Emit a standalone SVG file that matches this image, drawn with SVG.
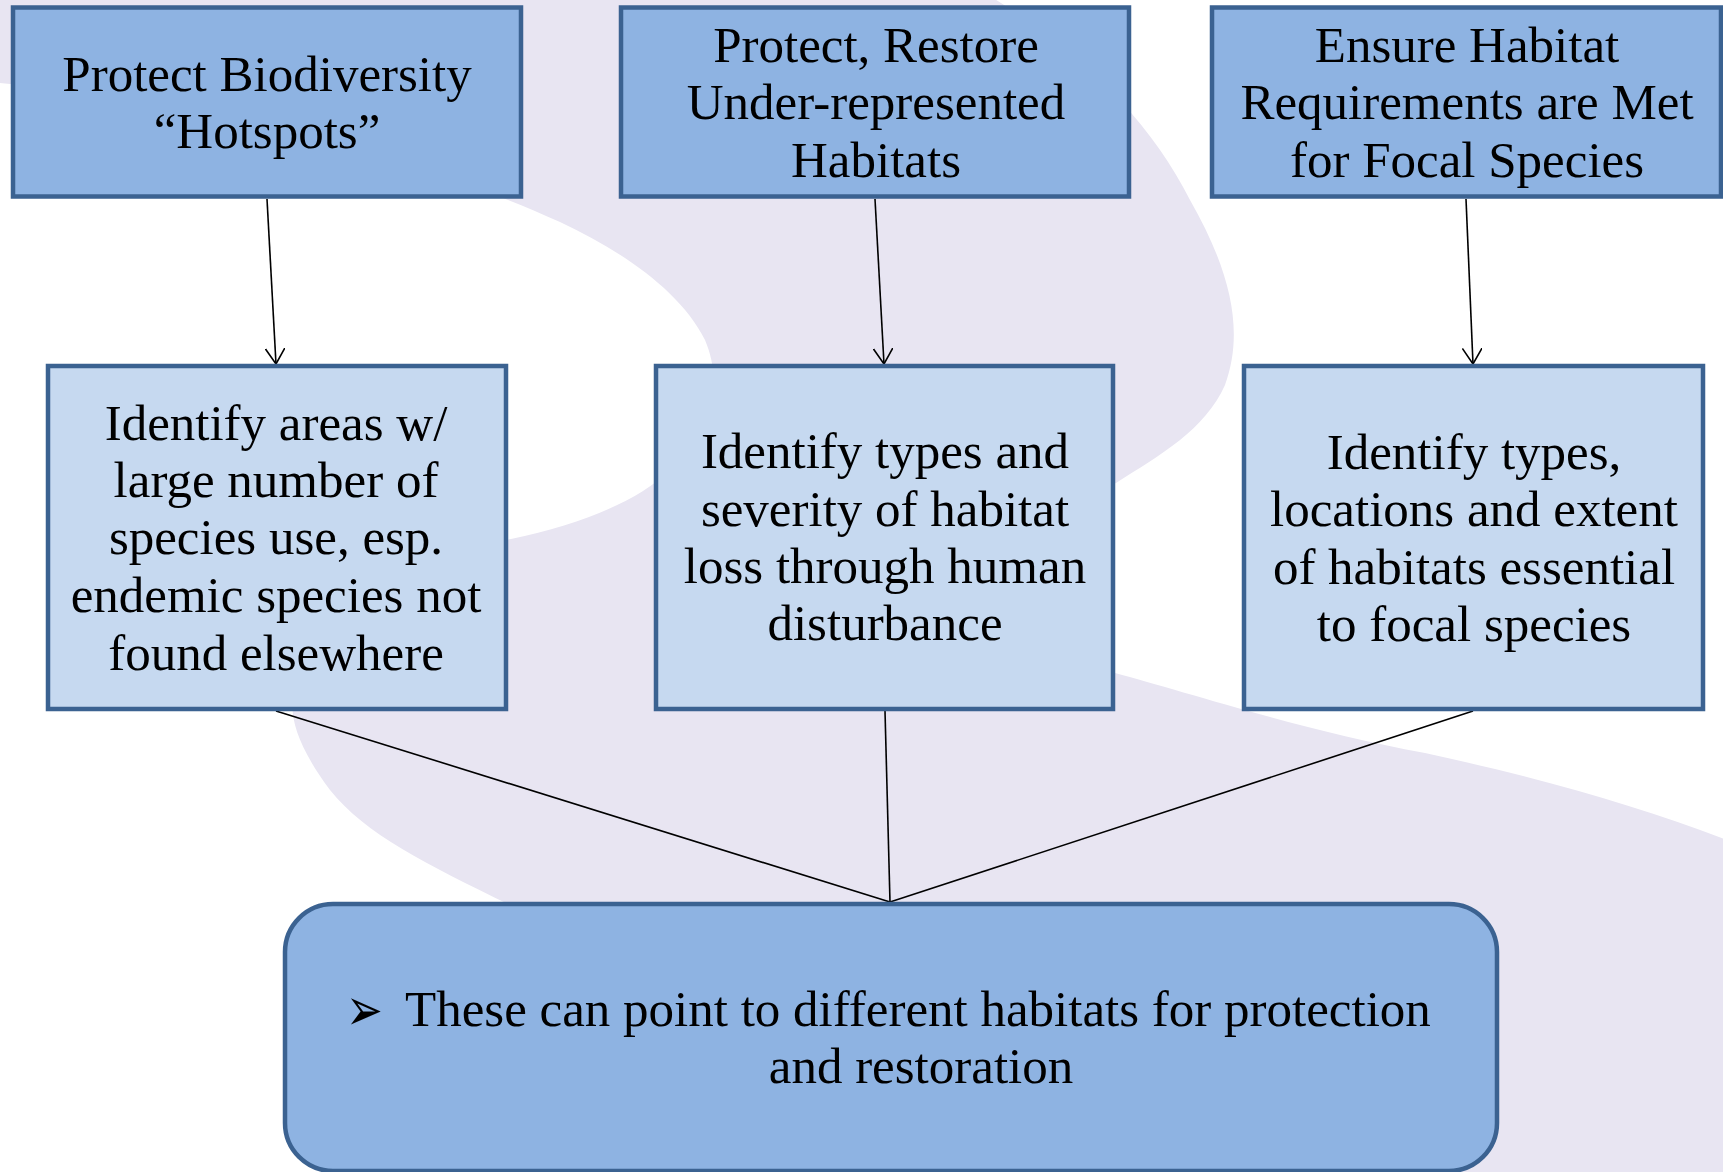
<svg xmlns="http://www.w3.org/2000/svg" width="1723" height="1172" viewBox="0 0 1723 1172">
<style>
.top{fill:#8EB3E2;stroke:#3B6291;stroke-width:4.5}
.mid{fill:#C6D9F0;stroke:#3B6291;stroke-width:4.5}
.bot{fill:#8EB3E2;stroke:#3B6291;stroke-width:4.5}
.t{font-family:"Liberation Serif","Times New Roman",serif;font-size:51px;fill:#000;text-anchor:middle}
.c{stroke:#000;stroke-width:1.6;fill:none}
</style>
<defs>
<marker id="arr" viewBox="0 0 16 20" refX="16" refY="10" markerWidth="16" markerHeight="20" markerUnits="userSpaceOnUse" orient="auto">
<path d="M0,0 L16,10 L0,20" fill="none" stroke="#000" stroke-width="1.6"/>
</marker>
</defs>
<rect width="1723" height="1172" fill="#FFFFFF"/>
<path id="swoosh" fill="#E8E5F2" d="M-10,-10 L980,-10 C1080,50 1150,120 1190,200 C1230,270 1245,330 1225,385 C1205,430 1160,455 1116,483 L900,560 Q820,640 950,660 L1115,673 C1180,690 1300,730 1425,753 C1550,780 1650,810 1740,845 L1740,1190 L600,1190 L540,920 C440,870 370,840 330,790 C300,750 290,720 293,700 C300,600 400,560 511,539 C580,525 640,500 670,470 C715,425 722,380 705,340 C680,290 620,250 560,222 C400,150 200,100 -10,82 Z"/>
<g id="connectors">
<line class="c" x1="267" y1="199" x2="276" y2="364" marker-end="url(#arr)"/>
<line class="c" x1="875" y1="199" x2="884" y2="364" marker-end="url(#arr)"/>
<line class="c" x1="1466" y1="199" x2="1473" y2="364" marker-end="url(#arr)"/>
<line class="c" x1="276" y1="711" x2="890" y2="902"/>
<line class="c" x1="885" y1="711" x2="890" y2="902"/>
<line class="c" x1="1473" y1="711" x2="890" y2="902"/>
</g>
<g id="nodeA">
<rect class="top" x="13" y="7.5" width="508" height="189"/>
<text class="t" x="267" y="91">Protect Biodiversity</text>
<text class="t" x="267" y="148">“Hotspots”</text>
</g>
<g id="nodeB">
<rect class="top" x="621" y="7.5" width="508" height="189"/>
<text class="t" x="876" y="62">Protect, Restore</text>
<text class="t" x="876" y="119">Under-represented</text>
<text class="t" x="876" y="177">Habitats</text>
</g>
<g id="nodeC">
<rect class="top" x="1212" y="7.5" width="509" height="189"/>
<text class="t" x="1467" y="62">Ensure Habitat</text>
<text class="t" x="1467" y="119">Requirements are Met</text>
<text class="t" x="1467" y="177">for Focal Species</text>
</g>
<g id="nodeD">
<rect class="mid" x="48" y="366" width="458" height="343"/>
<text class="t" x="276" y="440">Identify areas w/</text>
<text class="t" x="276" y="497">large number of</text>
<text class="t" x="276" y="554">species use, esp.</text>
<text class="t" x="276" y="612">endemic species not</text>
<text class="t" x="276" y="670">found elsewhere</text>
</g>
<g id="nodeE">
<rect class="mid" x="656" y="366" width="457" height="343"/>
<text class="t" x="885" y="468">Identify types and</text>
<text class="t" x="885" y="526">severity of habitat</text>
<text class="t" x="885" y="583">loss through human</text>
<text class="t" x="885" y="640">disturbance</text>
</g>
<g id="nodeF">
<rect class="mid" x="1244" y="366" width="459" height="343"/>
<text class="t" x="1474" y="469">Identify types,</text>
<text class="t" x="1474" y="526">locations and extent</text>
<text class="t" x="1474" y="584">of habitats essential</text>
<text class="t" x="1474" y="641">to focal species</text>
</g>
<g id="nodeBottom">
<rect class="bot" x="285" y="904" width="1212" height="267" rx="48" ry="48"/>
<text transform="translate(346,1030) scale(1,1.35)" style="font-family:'DejaVu Sans',sans-serif;font-size:44px;fill:#000">➢</text>
<text class="t" x="405" y="1026" style="text-anchor:start">These can point to different habitats for protection</text>
<text class="t" x="921" y="1083">and restoration</text>
</g>
</svg>
